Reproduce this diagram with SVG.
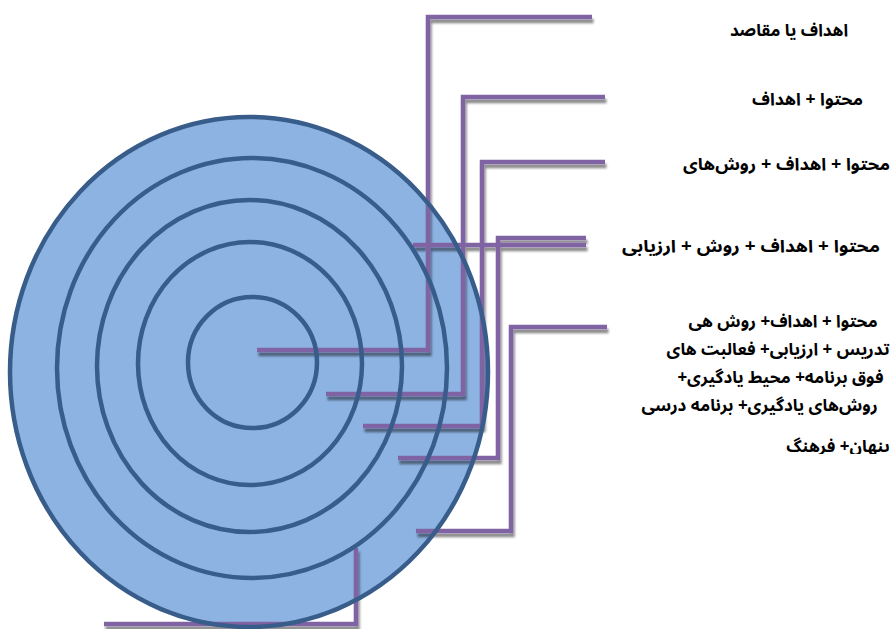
<svg xmlns="http://www.w3.org/2000/svg" width="893" height="629" viewBox="0 0 893 629">
<style>
.ring{fill:none;stroke:#385D8A;stroke-width:4.5}
.conn{fill:none;stroke:#8064A2;stroke-width:4.5;stroke-linejoin:miter;stroke-linecap:butt}
.lbl{font-family:"Noto Sans Arabic","Noto Naskh Arabic","DejaVu Sans",sans-serif;font-weight:bold;font-size:17px;fill:#000;direction:rtl;text-anchor:middle}
</style>
<defs>
<filter id="sh" x="-5%" y="-5%" width="110%" height="115%">
<feDropShadow dx="1.5" dy="4" stdDeviation="0.9" flood-color="#000" flood-opacity="0.45"/>
</filter>
<clipPath id="cut"><rect x="600" y="300" width="293" height="154"/></clipPath>
</defs>
<rect width="893" height="629" fill="#fff"/>
<g id="target">
<ellipse cx="249" cy="372" rx="239" ry="255" fill="#8DB3E2"/>
</g>
<g id="connectors" filter="url(#sh)">
<path class="conn" d="M592,17 H428 V350 H257"/>
<path class="conn" d="M605,97 H463 V394 H326"/>
<path class="conn" d="M605,162 H482 V426 H363"/>
<path class="conn" d="M586,238 H498 V458 H398"/>
<path class="conn" d="M413,245 H586"/>
<path class="conn" d="M607,327 H511 V531 H416"/>
<path class="conn" d="M356,548 V624 H104"/>
</g>
<g id="rings">
<ellipse class="ring" cx="249" cy="372" rx="239" ry="255"/>
<ellipse class="ring" cx="252" cy="368" rx="195" ry="210"/>
<ellipse class="ring" cx="249.5" cy="366" rx="152.5" ry="166"/>
<ellipse class="ring" cx="250" cy="363.5" rx="112" ry="121.5"/>
<ellipse class="ring" cx="252.5" cy="362.5" rx="64.5" ry="65.5"/>
</g>
<g id="label1"><text class="lbl" x="789" y="36">اهداف یا مقاصد</text></g>
<g id="label2"><text class="lbl" x="807.5" y="105" textLength="111" lengthAdjust="spacingAndGlyphs">محتوا + اهداف</text></g>
<g id="label3"><text class="lbl" x="786.5" y="170" textLength="207" lengthAdjust="spacingAndGlyphs">محتوا + اهداف + روش‌های</text></g>
<g id="label4"><text class="lbl" x="751" y="252" textLength="258" lengthAdjust="spacingAndGlyphs">محتوا + اهداف + روش + ارزیابی</text></g>
<g id="label5">
<text class="lbl" clip-path="url(#cut)"><tspan x="783" y="327">محتوا + اهداف+ روش هی</tspan><tspan x="778" y="355">تدریس + ارزیابی+ فعالبت های</tspan><tspan x="780.5" y="383">فوق برنامه+ محیط یادگیری+</tspan><tspan x="759.5" y="411">روش‌های یادگیری+ برنامه درسی</tspan><tspan x="838" y="452">پنهان+ فرهنگ</tspan></text>
</g>
</svg>
